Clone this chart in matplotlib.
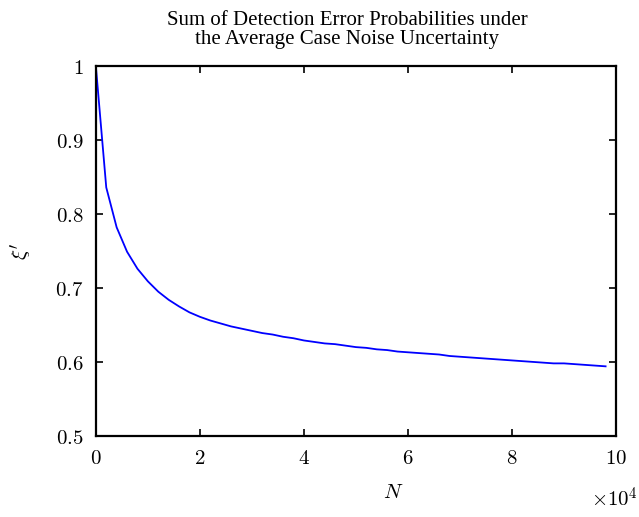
import matplotlib
matplotlib.use('Agg')
import matplotlib.pyplot as plt
from matplotlib.ticker import FuncFormatter, MultipleLocator

plt.rcParams['mathtext.fontset'] = 'cm'

# sample sizes (units of 1e4) and the summed error probability xi'
N_SCALED = [0.0, 0.2, 0.4, 0.6, 0.8, 1.0, 1.2, 1.4, 1.6, 1.8,
            2.0, 2.2, 2.4, 2.6, 2.8, 3.0, 3.2, 3.4, 3.6, 3.8,
            4.0, 4.2, 4.4, 4.6, 4.8, 5.0, 5.2, 5.4, 5.6, 5.8,
            6.0, 6.2, 6.4, 6.6, 6.8, 7.0, 7.2, 7.4, 7.6, 7.8,
            8.0, 8.2, 8.4, 8.6, 8.8, 9.0, 9.2, 9.4, 9.6, 9.8]
XI = [1.000, 0.836, 0.782, 0.749, 0.726, 0.709, 0.695, 0.684, 0.675, 0.667,
      0.661, 0.656, 0.652, 0.648, 0.645, 0.642, 0.639, 0.637, 0.634, 0.632,
      0.629, 0.627, 0.625, 0.624, 0.622, 0.620, 0.619, 0.617, 0.616, 0.614,
      0.613, 0.612, 0.611, 0.610, 0.608, 0.607, 0.606, 0.605, 0.604, 0.603,
      0.602, 0.601, 0.600, 0.599, 0.598, 0.598, 0.597, 0.596, 0.595, 0.594]
N = [n * 1e4 for n in N_SCALED]

fig = plt.figure(figsize=(6.39, 5.17), dpi=100)
ax = fig.add_axes([0.150, 0.157, 0.814, 0.715])

ax.plot(N, XI, color='#0000ff', lw=1.3)

ax.set_xlim(0, 1e5)
ax.set_ylim(0.5, 1.0)
ax.xaxis.set_major_locator(MultipleLocator(2e4))
ax.yaxis.set_major_locator(MultipleLocator(0.1))
ax.xaxis.set_major_formatter(FuncFormatter(lambda v, p: '$%g$' % (v / 1e4)))
ax.yaxis.set_major_formatter(FuncFormatter(lambda v, p: '$%g$' % round(v, 1)))

ax.tick_params(direction='in', length=5, width=1.2, top=True, right=True,
               labelsize=15, pad=9)
for s in ax.spines.values():
    s.set_linewidth(1.6)

ax.set_title('Sum of Detection Error Probabilities under\n'
             'the Average Case Noise Uncertainty',
             family='Liberation Serif', fontsize=15, pad=16, linespacing=1.0,
             x=0.483)
ax.set_xlabel('$N$', fontsize=15)
ax.xaxis.set_label_coords(0.571, -0.125)
ax.set_ylabel("$\\xi'$", fontsize=15, labelpad=15)
fig.text(0.998, 0.02, '$\\times10^4$', fontsize=15, ha='right', va='baseline')

fig.savefig('out.png', dpi=100)
